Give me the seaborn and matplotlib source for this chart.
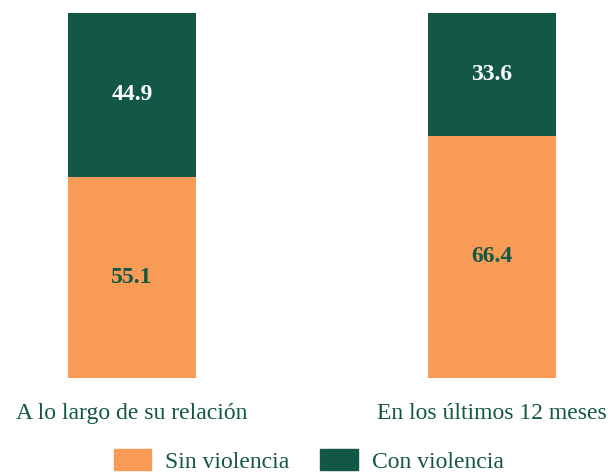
import pandas as pd
import seaborn as sns
import matplotlib
matplotlib.use("Agg")
import matplotlib.pyplot as plt
from matplotlib.patches import Patch

# Data
categories = ["A lo largo de su relación", "En los últimos 12 meses"]
sin_violencia = [55.1, 66.4]
con_violencia = [44.9, 33.6]
series_names = ["Sin violencia", "Con violencia"]

ORANGE = "#F79B56"
GREEN = "#135746"

sns.set_theme(style="white")
plt.rcParams["font.family"] = ["Liberation Serif", "DejaVu Serif"]

df = pd.DataFrame(
    {
        "cat": categories,
        "sin": sin_violencia,
        "con": con_violencia,
    }
)
df["total"] = df["sin"] + df["con"]

fig = plt.figure(figsize=(6.08, 4.72), dpi=100)
ax = fig.add_axes([0, 94 / 472, 1, 365 / 472])

bar_w = 128 / 360
sns.barplot(data=df, x="cat", y="total", color=GREEN, saturation=1,
            width=bar_w, linewidth=0, ax=ax)
sns.barplot(data=df, x="cat", y="sin", color=ORANGE, saturation=1,
            width=bar_w, linewidth=0, ax=ax)

for i, row in df.iterrows():
    ax.text(i, row["sin"] / 2, f"{row['sin']:.1f}", ha="center", va="center",
            fontsize=17, fontweight="bold", color=GREEN)
    ax.text(i, row["sin"] + row["con"] / 2, f"{row['con']:.1f}", ha="center",
            va="center", fontsize=17, fontweight="bold", color="white")

ax.set_xlim(-132 / 360, (608 - 132) / 360)
ax.set_ylim(0, 100)
ax.set_xlabel("")
ax.set_ylabel("")
ax.set_yticks([])
ax.tick_params(axis="x", length=0, pad=18, labelsize=17, labelcolor=GREEN)
for s in ax.spines.values():
    s.set_visible(False)

handles = [Patch(color=ORANGE), Patch(color=GREEN)]
fig.legend(handles, series_names, loc="center", bbox_to_anchor=(0.508, 11 / 472),
           ncol=2, frameon=False, fontsize=17, labelcolor=GREEN,
           handlelength=1.6, handleheight=1.0, handletextpad=0.6,
           columnspacing=1.3)

fig.savefig("out.png", dpi=100)
